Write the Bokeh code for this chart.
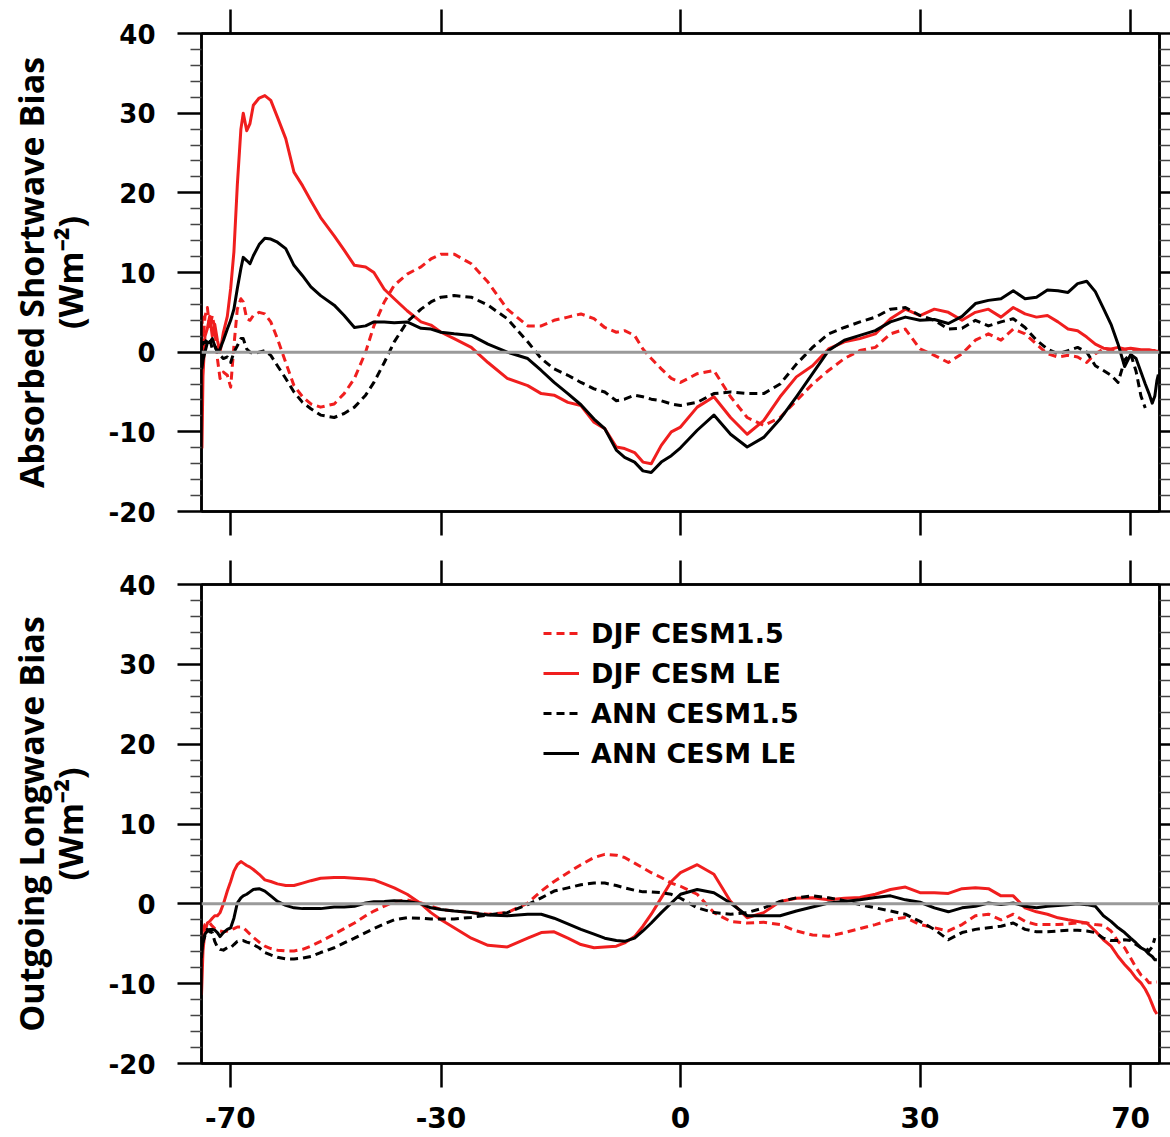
import numpy as np
from bokeh.plotting import figure
from bokeh.models import (Range1d, FixedTicker, LinearAxis, CustomJSTickFormatter,
                          Span, Legend, LegendItem)
from bokeh.layouts import column
from bokeh.embed import file_html
from bokeh.resources import INLINE

nan = float("nan")

# ---------------- data ----------------
lat_sh = [-90.0, -87.5, -85.5, -83.1, -81.0, -79.4, -77.8, -76.5, -75.2, -74.0,
          -72.6, -71.1, -69.9, -68.8, -67.7, -66.6, -65.9, -64.9, -64.0, -63.1,
          -61.6, -60.2, -58.8, -57.3, -55.5, -53.8, -52.1, -50.5, -48.7, -46.3,
          -44.6, -42.9, -41.1, -39.8, -38.2, -36.7, -34.8, -32.8, -31.4, -30.0,
          -28.2, -25.9, -23.7, -21.2, -18.6, -16.9, -15.3, -13.6, -12.0, -10.4,
          -9.1, -7.7, -6.7, -5.5, -4.5, -3.5, -2.3, -1.1]
lat_nh = [0, 2, 4, 6, 8, 10, 12, 14, 16, 18,
          20, 22, 24, 26, 28, 30, 32, 34, 36, 38,
          40, 42, 44, 46, 48, 50, 52, 54, 56, 58,
          60, 62, 64, 66, 68, 70, 72, 74, 76, 78,
          80, 82, 84, 86, 88]

# Absorbed shortwave bias
sw_djf_cesm15 = [3.0, 4.6, 1.0, 4.5, 5.6, 3.0, 4.6, 2.9, -0.8, -3.3,
                 -2.5, -2.9, -4.4, 0.8, 5.4, 6.7, 6.3, 4.2, 4.0, 4.6,
                 5.0, 4.8, 3.8, 1.7, -1.3, -4.2, -5.6, -6.5, -6.9, -6.5,
                 -5.2, -3.3, 0.0, 3.3, 6.3, 8.4, 9.8, 10.7, 11.7, 12.3,
                 12.3, 11.1, 8.8, 5.4, 3.3, 3.3, 4.0, 4.4, 4.8, 4.2,
                 3.1, 2.5, 2.7, 2.1, 0.4, -0.8, -2.1, -3.3,
                 -3.8, -2.7, -2.3, -5.6, -8.2, -9.2, -8.2, -6.1, -4.0, -2.3,
                 -0.8, 0.2, 0.6, 2.3, 2.9, 0.4, -0.4, -1.3, -0.2, 1.5,
                 2.3, 1.5, 2.9, 2.3, 1.0, -0.2, -0.6, -0.4, -0.6, -1.3,
                 -0.2, 0.4, 0.3, 0.3, 0.3, 0.3, 0.2, 0.2, 0.2, 0.1,
                 0.1, 0.1, nan, nan, nan]
sw_djf_cesmle = [-1.0, -12.0, -3.0, 2.0, 3.0, 4.5, 2.0, 3.5, 1.5, 0.0,
                 2.5, 4.5, 8.0, 12.6, 21.0, 28.0, 30.0, 27.8, 28.7, 31.0,
                 31.9, 32.2, 31.6, 29.5, 26.8, 22.6, 20.9, 19.0, 16.9, 14.6,
                 12.8, 10.9, 10.7, 10.0, 7.9, 6.7, 5.2, 3.8, 3.4, 2.5,
                 1.7, 0.6, -1.3, -3.3, -4.2, -5.2, -5.4, -6.3, -6.7, -8.8,
                 -9.6, -11.9, -12.1, -12.6, -13.8, -14.0, -11.7, -10.0,
                 -9.4, -6.9, -5.6, -8.2, -10.3, -8.6, -5.6, -3.1, -1.7, 0.4,
                 1.3, 1.7, 2.3, 4.2, 5.4, 4.6, 5.4, 5.0, 4.0, 5.0,
                 5.4, 4.4, 5.6, 4.8, 4.4, 4.6, 3.8, 2.9, 2.7, 1.9,
                 1.0, 0.5, 0.4, 0.6, 0.4, 0.5, 0.4, 0.3, 0.3, 0.3,
                 0.2, 0.2, 0.1, 0.1, 0.1]
sw_ann_cesm15 = [0.8, -0.8, 1.2, 1.2, 1.7, 1.7, 0.4, 0.8, 0.0, -0.4,
                 -0.8, -0.6, -1.3, 0.0, 0.8, 1.7, 1.7, 0.4, 0.0, -0.2,
                 0.0, 0.2, -0.4, -1.7, -3.3, -5.0, -6.3, -7.1, -7.9, -8.2,
                 -7.7, -6.9, -5.4, -3.8, -1.3, 1.3, 3.8, 5.4, 6.3, 6.9,
                 7.1, 6.9, 5.9, 4.2, 1.3, -0.8, -2.1, -2.9, -3.8, -4.6,
                 -5.0, -6.1, -5.9, -5.4, -5.6, -5.9, -6.1, -6.5,
                 -6.7, -6.3, -5.2, -5.0, -5.2, -5.2, -4.0, -1.5, 0.6, 2.3,
                 3.1, 3.8, 4.4, 5.4, 5.6, 4.6, 4.0, 2.9, 3.0, 4.0,
                 3.3, 3.8, 4.2, 3.1, 1.5, 0.4, -0.2, 0.2, 0.6, 0.0,
                 -1.7, -2.3, -2.9, -3.8, -1.0, -0.2, -2.4, -5.5, -7.0, nan,
                 nan, nan, nan, nan, nan]
sw_ann_cesmle = [-0.8, -2.0, -1.0, 0.0, 1.2, 1.2, 1.7, 0.8, 0.0, 0.4,
                 1.5, 2.9, 4.0, 5.4, 8.0, 10.5, 11.9, 11.5, 11.1, 12.1,
                 13.5, 14.3, 14.2, 13.8, 13.0, 10.9, 9.6, 8.2, 7.1, 5.9,
                 4.6, 3.1, 3.3, 3.8, 3.8, 3.7, 3.8, 3.0, 2.9, 2.5,
                 2.3, 2.1, 1.0, 0.0, -0.8, -2.3, -3.8, -5.2, -6.6, -8.4,
                 -9.6, -12.3, -13.2, -13.8, -14.9, -15.1, -13.8, -13.0,
                 -12.0, -9.8, -7.9, -10.3, -11.9, -10.7, -8.4, -5.6, -2.7, 0.2,
                 1.5, 2.1, 2.7, 3.8, 4.4, 4.0, 4.1, 3.6, 4.5, 6.1,
                 6.5, 6.7, 7.7, 6.7, 6.9, 7.8, 7.7, 7.5, 8.6, 8.9,
                 7.6, 5.5, 3.5, 1.0, -1.8, -0.3, -0.8, -2.5, -4.0, -5.2,
                 -6.4, -5.5, -3.6, -2.8, nan]

# Outgoing longwave bias
lw_djf_cesm15 = [-3.5, -4.3, -3.3, -2.6, -2.4, -2.4, -2.8, -3.1, -3.2, -3.4,
                 -3.5, -3.4, -3.3, -3.1, -2.9, -2.9, -3.0, -3.4, -3.8, -4.2,
                 -4.8, -5.3, -5.6, -5.8, -5.9, -5.9, -5.7, -5.3, -4.7, -3.8,
                 -3.1, -2.4, -1.5, -0.9, -0.3, 0.25, 0.5, 0.1, -0.3, -0.7,
                 -0.9, -1.1, -1.3, -1.1, 0.1, 1.6, 2.8, 3.9, 4.9, 5.8,
                 6.2, 6.1, 5.8, 5.1, 4.5, 3.9, 3.3, 2.6,
                 2.2, 1.2, -1.1, -2.2, -2.4, -2.3, -2.6, -3.4, -3.9, -4.05,
                 -3.6, -3.1, -2.6, -2.0, -1.7, -2.6, -3.0, -3.4, -2.6, -1.5,
                 -1.3, -2.0, -1.3, -2.2, -2.6, -2.6, -2.6, -2.5, -2.4, -2.4,
                 -2.6, -2.7, -3.4, -4.7, -5.5, -6.8, -8.0, -8.9, -9.3, -9.9,
                 -9.9, -9.8, -9.8, nan, nan]
lw_djf_cesmle = [-11.4, -9.7, -5.9, -3.4, -2.4, -2.2, -1.8, -1.5, -1.5, -1.1,
                 0.0, 1.6, 2.8, 4.1, 4.9, 5.3, 5.1, 4.8, 4.6, 4.3,
                 3.7, 3.0, 2.8, 2.5, 2.3, 2.3, 2.6, 2.9, 3.2, 3.3,
                 3.3, 3.2, 3.1, 3.0, 2.5, 2.0, 1.2, 0.0, -1.1, -2.0,
                 -3.0, -4.3, -5.2, -5.4, -4.3, -3.6, -3.5, -4.3, -5.1, -5.5,
                 -5.4, -5.3, -4.9, -4.1, -2.8, -1.3, 0.75, 2.8,
                 3.9, 4.9, 3.7, 0.3, -1.75, -1.1, 0.3, 0.7, 0.75, 0.5,
                 0.7, 0.8, 1.2, 1.8, 2.1, 1.4, 1.4, 1.3, 1.9, 2.0,
                 1.9, 1.0, 1.0, -0.5, -1.0, -1.3, -1.75, -2.0, -2.2, -2.4,
                 -3.4, -4.5, -5.3, -6.6, -7.6, -8.4, -9.3, -9.9, -10.7, -11.6,
                 -12.6, -13.4, -13.8, nan, nan]
lw_ann_cesm15 = [-6.5, -5.5, -4.8, -4.0, -3.2, -3.5, -3.6, -4.7, -5.4, -5.7,
                 -5.8, -5.5, -5.5, -5.1, -4.7, -4.6, -4.6, -4.8, -4.9, -5.1,
                 -5.5, -6.1, -6.4, -6.7, -6.9, -6.9, -6.8, -6.6, -6.1, -5.5,
                 -4.9, -4.3, -3.6, -3.1, -2.5, -2.0, -1.75, -1.8, -1.9, -1.9,
                 -1.9, -1.7, -1.4, -1.1, -0.1, 0.75, 1.6, 2.0, 2.4, 2.6,
                 2.6, 2.3, 2.0, 1.7, 1.5, 1.5, 1.4, 1.2,
                 0.7, -0.5, -1.1, -1.3, -1.1, -0.5, 0.3, 0.75, 1.0, 0.75,
                 0.4, -0.1, -0.5, -0.9, -1.3, -2.2, -3.2, -4.5, -3.6, -3.2,
                 -3.0, -2.8, -2.4, -3.2, -3.5, -3.5, -3.4, -3.3, -3.3, -3.4,
                 -3.6, -4.3, -4.6, -4.6, -4.5, -4.6, -5.1, -5.5, -5.5, -5.9,
                 -5.4, -4.3, nan, nan, nan]
lw_ann_cesmle = [-6.8, -5.9, -4.7, -3.8, -3.4, -3.2, -3.2, -3.3, -3.6, -4.1,
                 -3.6, -3.2, -3.0, -1.8, 0.1, 0.75, 1.0, 1.2, 1.5, 1.8,
                 1.9, 1.6, 1.0, 0.3, -0.2, -0.5, -0.6, -0.6, -0.6, -0.4,
                 -0.4, -0.3, 0.1, 0.25, 0.3, 0.4, 0.3, 0.0, -0.5, -0.7,
                 -0.9, -1.1, -1.4, -1.5, -1.3, -1.3, -1.8, -2.5, -3.2, -3.8,
                 -4.3, -4.6, -4.7, -4.3, -3.4, -2.4, -1.1, 0.1,
                 1.2, 1.8, 1.4, 0.1, -1.5, -1.5, -1.5, -0.9, -0.4, 0.1,
                 0.3, 0.5, 0.8, 1.0, 0.5, 0.2, -0.5, -1.0, -0.5, -0.3,
                 0.1, -0.1, 0.1, -0.3, -0.5, -0.3, -0.2, -0.1, 0.0, -0.1,
                 -0.3, -1.5, -2.2, -3.0, -3.6, -4.3, -4.9, -5.5, -5.8, -6.3,
                 -6.6, -7.0, -7.0, nan, nan]

x_tick_lats = [-70, -30, 0, 30, 70]
y_ticks = [-20, -10, 0, 10, 20, 30, 40]
y_minor = [-18, -16, -14, -12, -8, -6, -4, -2, 2, 4, 6, 8, 12, 14, 16, 18,
           22, 24, 26, 28, 32, 34, 36, 38]

legend_labels = ["DJF CESM1.5", "DJF CESM LE", "ANN CESM1.5", "ANN CESM LE"]
titles = ["Absorbed Shortwave Bias", "Outgoing Longwave Bias"]
unit_label = "(Wm\u207b\u00b2)"

# ---------------- plotting ----------------
lat = np.array(lat_sh + lat_nh, dtype=float)
xs = np.sin(np.radians(lat))

RED = "#f01e1e"
BLACK = "#000000"
DASH = "8 5"
LW = 3

TICK_FONT = "DejaVu Sans"
TITLE_FONT = "Open Sans"

x_ticker = FixedTicker(ticks=list(np.sin(np.radians(x_tick_lats))), minor_ticks=[])
lat_fmt = CustomJSTickFormatter(code="return Math.round(Math.asin(tick)*180/Math.PI).toString();")
y_fmt = CustomJSTickFormatter(code="return Math.round(tick).toString();")
blank_fmt = CustomJSTickFormatter(code="return '';")


def style_axis(ax, ticker, labels, fmt=None, minor=True, size="26px"):
    ax.ticker = ticker
    ax.axis_line_color = "black"
    ax.axis_line_width = 2.5
    ax.major_tick_line_color = "black"
    ax.major_tick_line_width = 2.5
    ax.major_tick_in = 0
    ax.major_tick_out = 24
    ax.minor_tick_line_color = "#444444"
    ax.minor_tick_line_width = 1.5
    ax.minor_tick_in = 0
    ax.minor_tick_out = 11 if minor else 0
    ax.major_label_text_font = TICK_FONT
    ax.major_label_text_font_style = "bold"
    ax.major_label_text_color = "black"
    if labels:
        ax.major_label_text_font_size = size
        if fmt is not None:
            ax.formatter = fmt
    else:
        ax.major_label_text_font_size = "0px"
        ax.major_label_standoff = 0
        ax.formatter = blank_fmt


def make_panel(height, btop, bbot, title, series, xlabels, with_legend):
    p = figure(width=1170, height=height, x_range=Range1d(-1, 1), y_range=Range1d(-20, 40),
               output_backend="svg", toolbar_location=None,
               x_axis_location=None, y_axis_location=None,
               min_border_left=201, min_border_right=11,
               min_border_top=btop, min_border_bottom=bbot)
    p.outline_line_color = "black"
    p.outline_line_width = 2.5
    p.xgrid.grid_line_color = None
    p.ygrid.grid_line_color = None
    p.background_fill_color = "white"

    y_ticker = FixedTicker(ticks=y_ticks, minor_ticks=y_minor)

    left = LinearAxis()
    style_axis(left, y_ticker, True, fmt=y_fmt, size="26px")
    left.major_label_standoff = 22
    left.axis_label = unit_label
    left.axis_label_text_font = TITLE_FONT
    left.axis_label_text_font_style = "bold"
    left.axis_label_text_font_size = "34px"
    left.axis_label_text_color = "black"
    left.axis_label_standoff = 13
    p.add_layout(left, "left")

    left2 = LinearAxis(ticker=FixedTicker(ticks=[]), axis_line_color=None,
                       major_tick_out=0, major_tick_in=0, minor_tick_out=0, minor_tick_in=0,
                       major_label_text_font_size="0px", major_label_standoff=0)
    left2.axis_label = title
    left2.axis_label_text_font = TITLE_FONT
    left2.axis_label_text_font_style = "bold"
    left2.axis_label_text_font_size = "34px"
    left2.axis_label_text_color = "black"
    left2.axis_label_standoff = -10
    p.add_layout(left2, "left")

    right = LinearAxis()
    style_axis(right, y_ticker, False)
    right.major_tick_out = 11
    right.minor_tick_out = 11
    p.add_layout(right, "right")

    top = LinearAxis()
    style_axis(top, x_ticker, False, minor=False)
    p.add_layout(top, "above")

    bottom = LinearAxis()
    style_axis(bottom, x_ticker, xlabels, fmt=lat_fmt, minor=False, size="28px")
    bottom.major_label_standoff = 19
    p.add_layout(bottom, "below")

    styles = [(RED, DASH), (RED, "solid"), (BLACK, DASH), (BLACK, "solid")]
    rends = []
    for vals, (col, dash) in zip(series, styles):
        r = p.line(xs, np.array(vals, dtype=float), line_color=col, line_width=LW,
                   line_dash=dash, line_join="round")
        rends.append(r)

    p.add_layout(Span(location=0, dimension="width", line_color="#9a9a9a", line_width=3))

    if with_legend:
        leg = Legend(items=[LegendItem(label=lab, renderers=[r]) for lab, r in zip(legend_labels, rends)],
                     location=(342, 290), orientation="vertical",
                     border_line_color=None, background_fill_alpha=0,
                     padding=0, margin=0, spacing=0,
                     glyph_width=36, glyph_height=40, label_height=40,
                     label_standoff=12,
                     label_text_font=TICK_FONT, label_text_font_style="bold",
                     label_text_font_size="27px", label_text_color="black")
        p.add_layout(leg)
    return p


p1 = make_panel(547, 33, 36, titles[0],
                [sw_djf_cesm15, sw_djf_cesmle, sw_ann_cesm15, sw_ann_cesmle], False, False)
p2 = make_panel(590, 37, 74, titles[1],
                [lw_djf_cesm15, lw_djf_cesmle, lw_ann_cesm15, lw_ann_cesmle], True, True)

layout = column(p1, p2, spacing=0)
open("out.html", "w").write(file_html(layout, INLINE))
